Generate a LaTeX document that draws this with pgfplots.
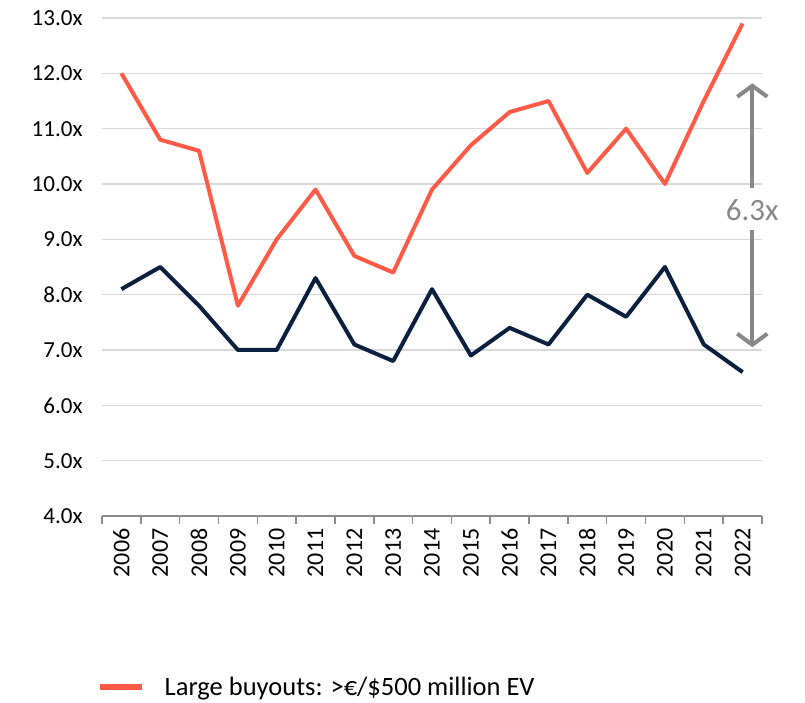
\documentclass[border=0pt]{standalone}
\usepackage{fontspec}
\setmainfont{Carlito}
\usepackage{pgfplots}
\pgfplotsset{compat=1.18}
\usetikzlibrary{arrows.meta}
\definecolor{org}{HTML}{FF5A46}
\definecolor{navy}{HTML}{0B1F3F}
\definecolor{gridc}{HTML}{D9D9D9}
\definecolor{axc}{HTML}{8C8C8C}
\definecolor{arrc}{HTML}{878787}
\begin{document}
\begin{tikzpicture}[x=1pt,y=1pt]
\useasboundingbox (0,0) rectangle (805,703);
\begin{axis}[
  at={(102pt,187pt)}, anchor=south west,
  scale only axis, width=660pt, height=498pt,
  xmin=-0.5, xmax=16.5, ymin=4, ymax=13,
  axis x line*=bottom, axis y line*=left,
  x axis line style={draw=axc, line width=1.5pt, -},
  y axis line style={draw=none},
  xtick={0,...,16},
  xticklabels={2006,2007,2008,2009,2010,2011,2012,2013,2014,2015,2016,2017,2018,2019,2020,2021,2022},
  minor xtick={-0.5,0.5,...,16.5},
  major tick length=0pt, minor tick length=8pt,
  tick align=outside,
  minor tick style={draw=axc, line width=1.5pt},
  ytick={4,5,...,13},
  yticklabels={4.0x,5.0x,6.0x,7.0x,8.0x,9.0x,10.0x,11.0x,12.0x,13.0x},
  ymajorgrids, grid style={gridc, line width=1.5pt},
  ytick style={draw=none},
  yticklabel style={anchor=east, xshift=-16pt, font=\fontsize{23}{28}\selectfont, text=black},
  xticklabel shift=9pt,
  xticklabel style={rotate=90, anchor=east, font=\fontsize{24}{28}\selectfont, text=black},
  clip=false,
  legend style={at={(-0.0075,-0.343)}, anchor=west, draw=none, fill=none, inner sep=0pt,
    column sep=18pt, font=\fontsize{26.5}{31}\selectfont},
  legend cell align=left,
  legend image code/.code={\draw[#1, line width=5.5pt] (0pt,0pt) -- (42pt,0pt);},
]
\addplot[org, line width=4pt, line join=round] coordinates {
(0,12.0)(1,10.8)(2,10.6)(3,7.8)(4,9.0)(5,9.9)(6,8.7)(7,8.4)(8,9.9)(9,10.7)(10,11.3)(11,11.5)(12,10.2)(13,11.0)(14,10.0)(15,11.5)(16,12.9)};
\addlegendentry{Large buyouts: >€/\$500 million EV}
\addplot[navy, line width=4pt, line join=round, forget plot] coordinates {
(0,8.1)(1,8.5)(2,7.8)(3,7.0)(4,7.0)(5,8.3)(6,7.1)(7,6.8)(8,8.1)(9,6.9)(10,7.4)(11,7.1)(12,8.0)(13,7.6)(14,8.5)(15,7.1)(16,6.6)};
\draw[arrc, line width=4pt, -{Straight Barb[length=11pt, width=30pt]}] (axis cs:16.25,9.93) -- (axis cs:16.25,11.82);
\draw[arrc, line width=4pt, -{Straight Barb[length=11pt, width=30pt]}] (axis cs:16.25,9.17) -- (axis cs:16.25,7.05);
\node[text=arrc, font=\fontsize{31}{37}\selectfont] at (axis cs:16.25,9.53) {6.3x};
\end{axis}
\end{tikzpicture}
\end{document}
